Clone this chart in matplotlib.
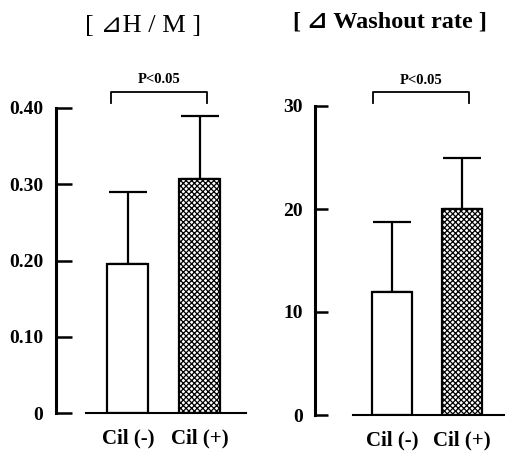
import numpy as np
import matplotlib.pyplot as plt

plt.rcParams['hatch.linewidth'] = 0.9

# data
groups = ['Cil (-)', 'Cil (+)']
hm_mean = [0.195, 0.307]
hm_err = [0.095, 0.083]
hm_ticks = [0, 0.10, 0.20, 0.30, 0.40]
hm_ticklabels = ['0', '0.10', '0.20', '0.30', '0.40']
wr_mean = [11.9, 20.0]
wr_err = [6.8, 5.0]
wr_ticks = [0, 10, 20, 30]
wr_ticklabels = ['0', '10', '20', '30']
p_text = 'P<0.05'

serif = ['Liberation Serif', 'DejaVu Serif']
sym = ['Liberation Serif', 'DejaVu Sans']

fig = plt.figure(figsize=(5.05, 4.51), dpi=100)
W, H = 505., 451.


def make_ax(x0, x1, y0, y1):
    return fig.add_axes([x0 / W, 1 - y0 / H, (x1 - x0) / W, (y0 - y1) / H])


def panel(ax, mean, err, ticks, labels, xl, base0, ticklen, bracket, ptxt_y):
    x = np.arange(len(groups))
    ax.bar(x, mean, width=0.57, color='white', edgecolor='black', linewidth=1.6,
           hatch=['', 'xxxxxx'], zorder=2)
    ax.errorbar(x, mean, yerr=[np.zeros(len(err)), err], fmt='none', ecolor='black',
                elinewidth=1.6, capsize=14, capthick=1.6, zorder=1)
    ax.set_xlim(*xl)
    ax.set_ylim(ticks[0], ticks[-1])
    for s in ['top', 'right']:
        ax.spines[s].set_visible(False)
    ax.spines['left'].set_linewidth(2.2)
    ax.spines['bottom'].set_linewidth(1.5)
    ax.spines['bottom'].set_bounds(base0, xl[1])
    ax.set_yticks(ticks)
    ax.set_yticklabels(labels, fontfamily=serif, fontweight='bold', fontsize=14)
    ax.tick_params(axis='y', direction='in', length=ticklen, width=1.8, pad=9)
    ax.set_xticks(x)
    ax.set_xticklabels(groups, fontfamily=serif, fontweight='bold', fontsize=15)
    ax.tick_params(axis='x', length=0, pad=11)
    bx0, bx1, by0, by1 = bracket
    ax.plot([bx0, bx0, bx1, bx1], [by0, by1, by1, by0], color='black', lw=1.3,
            clip_on=False)
    ax.text((bx0 + bx1) / 2, ptxt_y, p_text, ha='center', va='center',
            fontfamily=serif, fontweight='bold', fontsize=10.5)
    ax.patch.set_visible(False)


ax1 = make_ax(56, 246, 413, 108)
panel(ax1, hm_mean, hm_err, hm_ticks, hm_ticklabels, (-1.0, 1.64), -0.583, 11.5,
      (-0.236, 1.097, 0.4066, 0.421), 0.437)

ax2 = make_ax(315, 505, 415, 106)
panel(ax2, wr_mean, wr_err, wr_ticks, wr_ticklabels, (-1.1, 1.614), -0.557, 9.4,
      (-0.27, 1.1, 30.3, 31.36), 32.5)

fig.text(143 / W, 1 - 26 / H, '[ \u22bfH / M ]', ha='center', va='center',
         fontfamily=sym, fontsize=19)
fig.text(390 / W, 1 - 22 / H, '[ \u22bf Washout rate ]', ha='center', va='center',
         fontfamily=sym, fontweight='bold', fontsize=17.5)

fig.savefig('out.png', dpi=100)
